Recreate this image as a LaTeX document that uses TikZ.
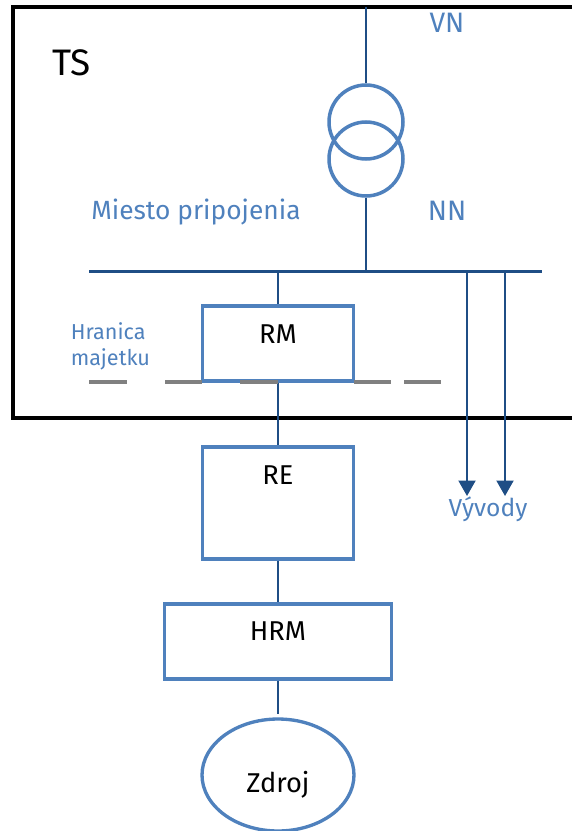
\documentclass[tikz,border=0pt]{standalone}
\usepackage{fontspec}
\setmainfont{Fira Sans}
\usetikzlibrary{shapes.geometric}
\usetikzlibrary{arrows.meta}
\definecolor{modra}{HTML}{4F81BD}
\definecolor{tmava}{HTML}{1F4E85}
\definecolor{seda}{HTML}{808080}
\tikzset{
	prvok/.style={rectangle,draw=modra,line width=1.8pt,inner sep=0pt},
	kruh/.style={circle,draw=modra,line width=2pt,minimum size=1.48cm,inner sep=0pt},
	vedenie/.style={draw=tmava,line width=1.2pt},
	vyvod/.style={vedenie,-{Triangle[length=0.31cm,width=0.34cm]}},
	hranica/.style={draw=seda,line width=2pt},
	cierny/.style={text=black,inner sep=0pt},
	modry/.style={text=modra,inner sep=0pt},
}
\begin{document}
\begin{tikzpicture}[x=0.02cm,y=-0.02cm]
			\useasboundingbox (0,0) rectangle (571,831);
			\node[rectangle,draw=black,line width=1.8pt,minimum width=11.4cm,minimum height=8.22cm,inner sep=0pt] (ts) at (298,212.5) {};
			\node[kruh] (t1) at (366,122) {};
			\node[kruh] (t2) at (366,159) {};
			\node[prvok,minimum width=3.02cm,minimum height=1.5cm] (rm) at (278,343.5) {};
			\node[prvok,minimum width=3.02cm,minimum height=2.24cm] (re) at (278,503) {};
			\node[prvok,minimum width=4.54cm,minimum height=1.5cm] (hrm) at (278,641.5) {};
			\node[ellipse,draw=modra,line width=1.9pt,minimum width=3.04cm,minimum height=2.24cm,inner sep=0pt] (zd) at (278,775) {};
			\node[cierny,font=\fontsize{21}{25}\selectfont] (tst) at (71.5,63) {TS};
			\node[modry,font=\fontsize{16}{19}\selectfont] (vn) at (447,23) {VN};
			\node[modry,font=\fontsize{16}{19}\selectfont] (nn) at (447,211) {NN};
			\node[modry,font=\fontsize{15}{18}\selectfont] (mp) at (196,212.5) {Miesto pripojenia};
			\node[modry,font=\fontsize{12.3}{15}\selectfont,anchor=west] (hr) at (70.5,331) {Hranica};
			\node[modry,font=\fontsize{12.3}{15}\selectfont,anchor=west] (ma) at (70.5,359) {majetku};
			\node[cierny,font=\fontsize{15.5}{18}\selectfont] (rmt) at (278,334) {RM};
			\node[cierny,font=\fontsize{15.5}{18}\selectfont] (ret) at (278,475) {RE};
			\node[cierny,font=\fontsize{15.5}{18}\selectfont] (hrmt) at (278,631) {HRM};
			\node[cierny,font=\fontsize{15.5}{18}\selectfont] (zdt) at (278,785) {Zdroj};
			\node[modry,font=\fontsize{14}{17}\selectfont] (vy) at (488,509) {Vývody};
			\coordinate (vstup) at (366,7);
			\coordinate (b1) at (89,271.5);
			\coordinate (b2) at (278,271.5);
			\coordinate (b3) at (366,271.5);
			\coordinate (b4) at (467,271.5);
			\coordinate (b5) at (505,271.5);
			\coordinate (b6) at (542,271.5);
			\coordinate (s1) at (467,496);
			\coordinate (s2) at (505,496);
			\coordinate (konc) at (278,714);
			\draw[vedenie](vstup)--(t1.north);
			\draw[vedenie](t2.south)--(b3);
			\draw[vedenie](b1)--(b6);
			\draw[vedenie](b2)--(rm.north);
			\draw[vedenie](rm.south)--(re.north);
			\draw[vedenie](re.south)--(hrm.north);
			\draw[vedenie](hrm.south)--(konc);
			\draw[vyvod](b4)--(s1);
			\draw[vyvod](b5)--(s2);
			\foreach \a/\b in {89/127,165/202,240/278,354/391,404/441}
				\draw[hranica] (\a,382)--(\b,382);
		\end{tikzpicture}
\end{document}
